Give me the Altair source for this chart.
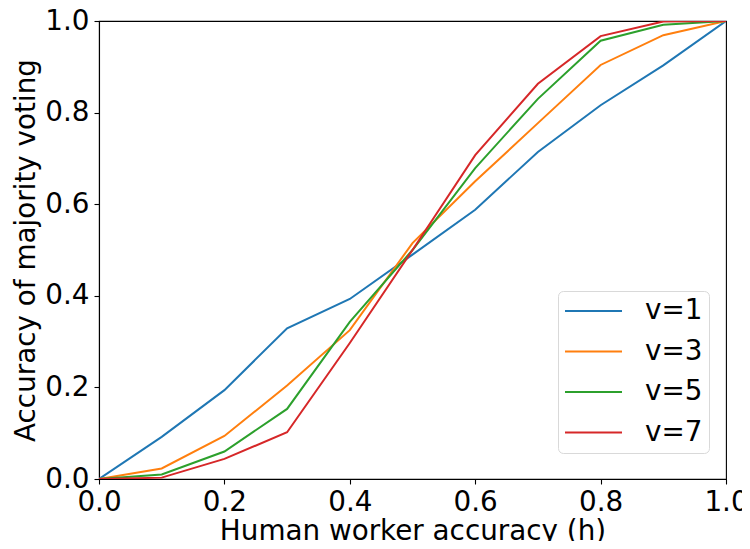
import altair as alt
import pandas as pd

h = [0.0, 0.1, 0.2, 0.3, 0.4, 0.5, 0.6, 0.7, 0.8, 0.9, 1.0]
v1 = [0.0, 0.092, 0.194, 0.329, 0.393, 0.49, 0.588, 0.714, 0.816, 0.903, 1.0]
v3 = [0.0, 0.023, 0.094, 0.204, 0.325, 0.515, 0.650, 0.777, 0.904, 0.969, 1.0]
v5 = [0.0, 0.010, 0.060, 0.153, 0.343, 0.50, 0.679, 0.830, 0.957, 0.992, 1.0]
v7 = [0.0, 0.003, 0.044, 0.102, 0.297, 0.50, 0.707, 0.863, 0.967, 0.999, 1.0]
series = ["v=1", "v=3", "v=5", "v=7"]
colors = ["#1f77b4", "#ff7f0e", "#2ca02c", "#d62728"]

rows = []
for name, vals in zip(series, [v1, v3, v5, v7]):
    for x, y in zip(h, vals):
        rows.append({"h": x, "acc": y, "series": name})
df = pd.DataFrame(rows)

font = "DejaVu Sans"
fs = 27.8

chart = alt.Chart(df).mark_line(strokeWidth=2, clip=True).encode(
    x=alt.X("h:Q", scale=alt.Scale(domain=[0, 1], nice=False, zero=False),
            axis=alt.Axis(title="Human worker accuracy (h)", values=[0, 0.2, 0.4, 0.6, 0.8, 1.0],
                          format=".1f", grid=False, tickSize=5, labelPadding=4,
                          titlePadding=2, labelFlush=False)),
    y=alt.Y("acc:Q", scale=alt.Scale(domain=[0, 1], nice=False, zero=False),
            axis=alt.Axis(title="Accuracy of majority voting", values=[0, 0.2, 0.4, 0.6, 0.8, 1.0],
                          format=".1f", grid=False, tickSize=5, labelPadding=5,
                          titlePadding=4, labelFlush=False)),
    color=alt.Color("series:N", scale=alt.Scale(domain=series, range=colors),
                    legend=alt.Legend(title=None, titlePadding=0, orient="none",
                                      legendX=459, legendY=270,
                                      symbolType="M-1,0H3.385", symbolSize=676, symbolStrokeWidth=2,
                                      labelFontSize=fs, labelFont=font, rowPadding=12.5,
                                      labelOffset=53, padding=6, strokeColor="#d9d9d9",
                                      fillColor="white", cornerRadius=5)),
).properties(
    width=627, height=458,
    padding={"left": 91, "top": 13, "right": 16, "bottom": 62},
    autosize=alt.AutoSizeParams(type="none"),
).configure_view(
    stroke="black", strokeWidth=1.1
).configure_axis(
    labelFont=font, titleFont=font, labelFontSize=fs, titleFontSize=fs,
    labelColor="black", titleColor="black", titleFontWeight="normal",
    domainColor="black", tickColor="black", domainWidth=1.1, tickWidth=1.1,
)

chart.save("out.html", embed_options={"renderer": "svg", "actions": False})
